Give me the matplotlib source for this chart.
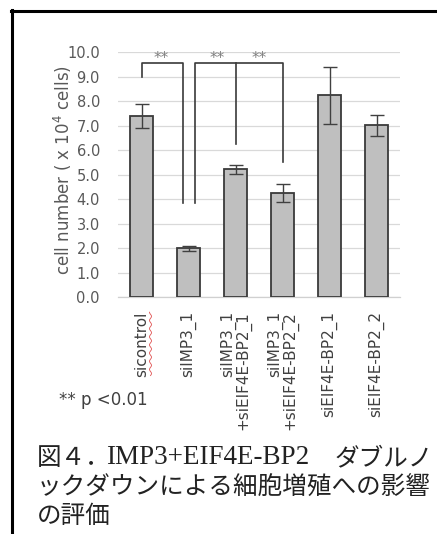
import numpy as np
import matplotlib
matplotlib.use("Agg")
import matplotlib.pyplot as plt
from matplotlib.lines import Line2D

# ---- data ----
categories = ["sicontrol", "siIMP3_1", "siIMP3_1\n+siEIF4E-BP2_1",
              "siIMP3_1\n+siEIF4E-BP2_2", "siEIF4E-BP2_1", "siEIF4E-BP2_2"]
values = [7.4, 2.0, 5.23, 4.27, 8.24, 7.02]
errors = [0.5, 0.1, 0.18, 0.37, 1.17, 0.42]
yticks = [0, 1, 2, 3, 4, 5, 6, 7, 8, 9, 10]
ytick_labels = [f"{t:.1f}" for t in yticks]

# significance brackets: (x positions, y positions) in data units
bracket1_x = [0.0, 0.0, 0.88, 0.88]
bracket1_y = [9.0, 9.55, 9.55, 3.84]
bracket2_x = [1.14, 1.14, 3.0, 3.0]
bracket2_y = [3.84, 9.55, 9.55, 5.51]
bracket2_mid_x = [2.0, 2.0]
bracket2_mid_y = [9.55, 6.26]
star_x = [0.42, 1.6, 2.5]
star_y = 9.75

W, H = 437, 534
plt.rcParams["font.family"] = ["DejaVu Sans"]
fig = plt.figure(figsize=(W / 100, H / 100), dpi=100)

ax = fig.add_axes([118 / W, 1 - 297.3 / H, 282 / W, 245 / H])
x = np.arange(len(categories))
txt = "#595959"
ax.bar(x, values, width=0.5, color="#bfbfbf", edgecolor="#3a3a3a",
       linewidth=1.3, zorder=3)
ax.errorbar(x, values, yerr=errors, fmt="none", ecolor="#404040",
            elinewidth=1.0, capsize=5, capthick=1.0, zorder=4)

ax.set_xlim(-0.5, len(categories) - 0.5)
ax.set_ylim(0, 10)
ax.set_yticks(yticks)
ax.set_yticklabels(ytick_labels, fontsize=10.5, color=txt)
ax.set_xticks(x)
ax.set_xticklabels(categories, rotation=90, ha="center", va="top",
                   multialignment="right", fontsize=11, color="#404040",
                   linespacing=0.9)
ax.tick_params(axis="y", length=0, pad=13)
ax.tick_params(axis="x", length=0, pad=10)
ax.grid(axis="y", color="#d9d9d9", linewidth=0.9, zorder=0)
for s in ["top", "right", "left"]:
    ax.spines[s].set_visible(False)
ax.spines["bottom"].set_color("#d0d0d0")
ax.spines["bottom"].set_linewidth(0.9)

bk = "#3a3a3a"
ax.plot(bracket1_x, bracket1_y, color=bk, lw=1.2, zorder=5, clip_on=False)
ax.plot(bracket2_x, bracket2_y, color=bk, lw=1.2, zorder=5, clip_on=False)
ax.plot(bracket2_mid_x, bracket2_mid_y, color=bk, lw=1.2, zorder=5, clip_on=False)
for sx in star_x:
    ax.text(sx, star_y, "**", ha="center", va="center", fontsize=11,
            color="#7f7f7f", zorder=6)

# y label
fig.text(63 / W, 1 - 170 / H, "cell number ( x 10$^4$ cells)", rotation=90,
         ha="center", va="center", fontsize=12, color=txt)

# p-value note
fig.text(59 / W, 1 - 400 / H, "** p <0.01", ha="left", va="center",
         fontsize=12, color="#404040")

# caption
cj = ["Noto Sans CJK JP", "DejaVu Sans"]
cap_col = "#222222"
fig.text(37 / W, 1 - 458 / H, "図４．", ha="left", va="center",
         fontsize=17.7, family=cj, color=cap_col)
fig.text(106 / W, 1 - 458 / H, "IMP3+EIF4E-BP2", ha="left", va="center",
         fontsize=19.5, family="Liberation Serif", color=cap_col)
fig.text(433 / W, 1 - 458 / H, "ダブルノ", ha="right", va="center",
         fontsize=17.7, family=cj, color=cap_col)
fig.text(37 / W, 1 - 487 / H, "ックダウンによる細胞増殖への影響", ha="left",
         va="center", fontsize=17.7, family=cj, color=cap_col)
fig.text(37 / W, 1 - 516 / H, "の評価", ha="left", va="center",
         fontsize=17.7, family=cj, color=cap_col)

# frame lines (top and left)
fig.add_artist(Line2D([11 / W, 1.0], [1 - 11 / H, 1 - 11 / H],
                      transform=fig.transFigure, color="black", lw=2.2))
fig.add_artist(Line2D([12 / W, 12 / W], [1 - 10 / H, 0.0],
                      transform=fig.transFigure, color="black", lw=2.2))

# red wavy spell-check underline beside the rotated "sicontrol" label
fig.canvas.draw()
lab = ax.get_xticklabels()[0]
bb = lab.get_window_extent(fig.canvas.get_renderer())
ys = np.linspace(bb.y0 + 1, bb.y1 - 1, 80)
xs = bb.x1 + 1.5 + 1.0 * np.sin((ys - ys[0]) / 1.3)
fig.add_artist(Line2D(xs / W, ys / H, transform=fig.transFigure,
                      color="#e05050", lw=0.6))

fig.savefig("out.png", dpi=100)
